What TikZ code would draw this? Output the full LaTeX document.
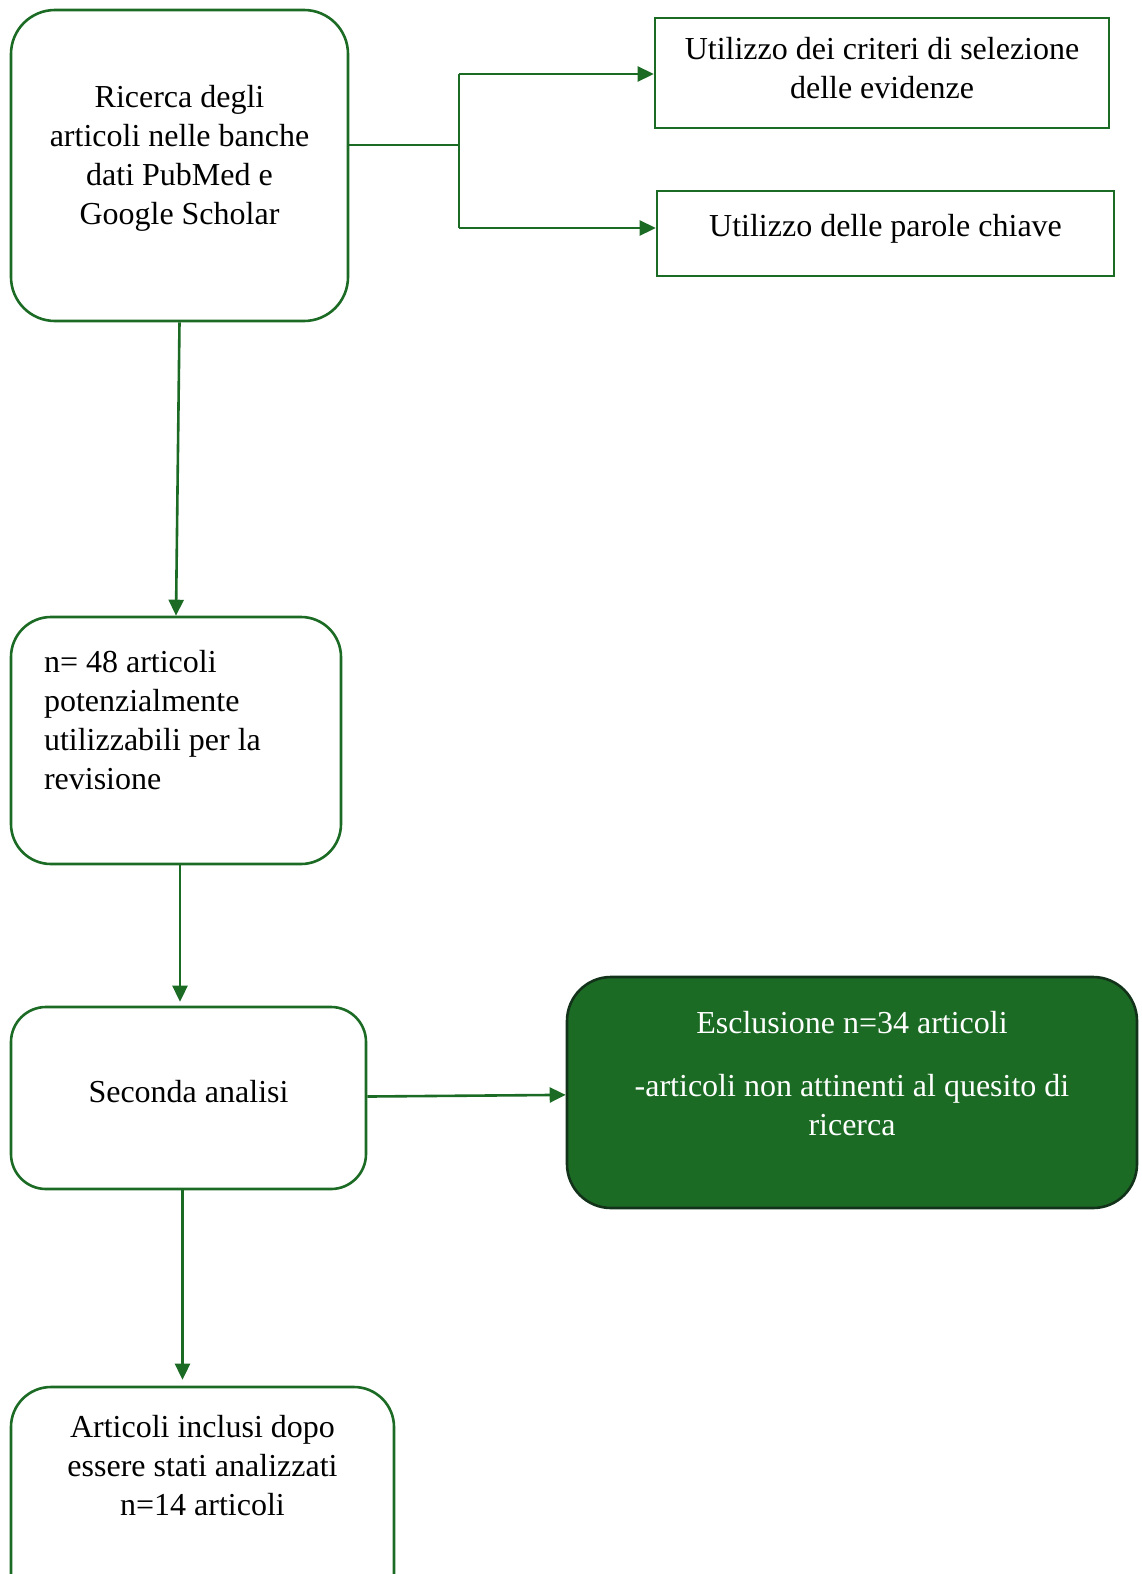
\documentclass[tikz,border=0pt]{standalone}
\usepackage{fontspec}
\setmainfont{Liberation Serif}
\usetikzlibrary{arrows.meta}
\definecolor{verde}{HTML}{1C6B25}
\definecolor{verdescuro}{HTML}{12331A}

\begin{document}
\begin{tikzpicture}[x=0.5pt, y=-0.5pt,
    box/.style = {draw=verde, line width=1.3pt, align=center, inner sep=0pt,
                  font=\fontsize{16}{19.5}\selectfont},
    arr/.style = {draw=verde, line width=1.3pt, -{Triangle[length=8pt,width=7.5pt]}},
    line/.style = {draw=verde, line width=1.3pt}]
\useasboundingbox (0,0) rectangle (1141,1574);

\node (A) [box, rounded corners=22pt, minimum width=168.5pt, minimum height=155.5pt,
    text depth=11pt] at (179.5,165.5)
    {Ricerca degli\\articoli nelle banche\\dati PubMed e\\Google Scholar};
\node (B) [box, minimum width=227pt, minimum height=55pt, text depth=5pt]
    at (882,73) {Utilizzo dei criteri di selezione\\delle evidenze};
\node (C) [box, minimum width=228.5pt, minimum height=42.5pt, text depth=8.5pt]
    at (885.5,233.5) {Utilizzo delle parole chiave};
\node (D) [box, rounded corners=20pt, align=flush left, text width=132pt, inner xsep=16.5pt,
    minimum height=123.5pt, text depth=79.5pt] at (176,740.5)
    {n= 48 articoli\\potenzialmente\\utilizzabili per la\\revisione};
\node (E) [box, rounded corners=17.5pt, minimum width=177.5pt, minimum height=91pt,
    text depth=7pt] at (188.5,1098) {Seconda analisi};
\node (F) [box, rounded corners=22pt, draw=verdescuro, fill=verde, text=white,
    minimum width=285pt, minimum height=115.5pt, text depth=19.5pt] at (852,1092.5)
    {Esclusione n=34 articoli\\[12pt]-articoli non attinenti al quesito di\\ricerca};
\node (G) [box, rounded corners=20pt, minimum width=191.5pt, minimum height=125pt,
    text depth=47pt] at (202.5,1512)
    {Articoli inclusi dopo\\essere stati analizzati\\n=14 articoli};

\coordinate (j) at (459,145);
\coordinate (jt) at (459,74);
\coordinate (jb) at (459,228);

\draw[line] (A.east |- j) -- (j);
\draw[line] (jt) -- (jb);
\draw[arr] (jt) -- (B.west |- jt);
\draw[arr] (jb) -- (C.west |- jb);

\draw[arr] (A.south) -- (D.north);
\draw[arr, shorten >=2pt] ([xshift=2pt]D.south) -- ([xshift=2pt]D.south |- E.north);
\draw[arr] (E) -- (F);
\draw[arr, shorten >=3pt] ([xshift=-3pt]E.south) -- ([xshift=-3pt]E.south |- G.north);
\end{tikzpicture}
\end{document}
